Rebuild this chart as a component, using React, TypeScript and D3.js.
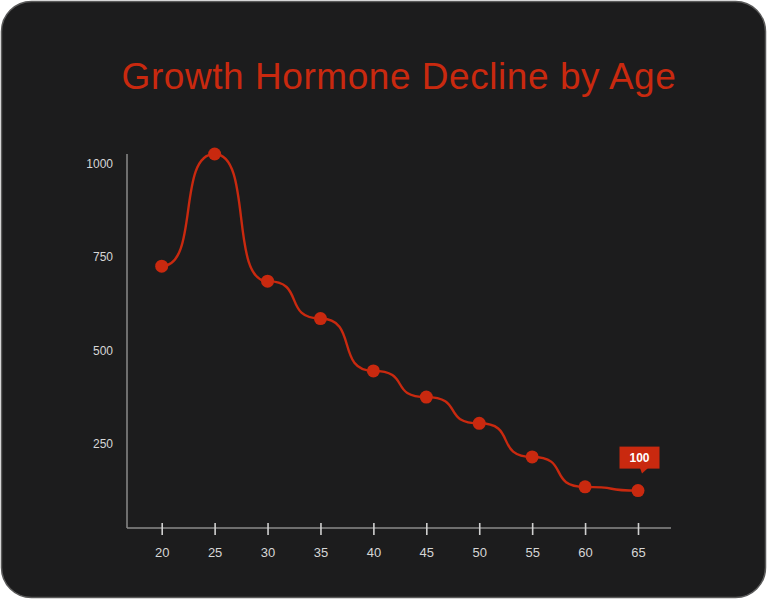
import React, { useEffect, useRef } from "react";
import * as d3 from "d3";

const ages = [20, 25, 30, 35, 40, 45, 50, 55, 60, 65];
const hormoneLevels = [700, 1000, 660, 560, 420, 350, 280, 190, 110, 100];
const yTickValues = [250, 500, 750, 1000];
const chartTitle = "Growth Hormone Decline by Age";

const RED = "#c9290f";

// horizontal S-curve between points, a bit steeper than curveBumpX
function curveSteepBump(context: any) {
  const k = 0.72;
  let x0 = NaN;
  let y0 = NaN;
  let started = false;
  return {
    areaStart() {},
    areaEnd() {},
    lineStart() {
      started = false;
    },
    lineEnd() {},
    point(x: number, y: number) {
      if (!started) {
        context.moveTo(x, y);
        started = true;
      } else {
        const dx = x - x0;
        context.bezierCurveTo(x0 + k * dx, y0, x - k * dx, y, x, y);
      }
      x0 = x;
      y0 = y;
    },
  };
}

const App: React.FC = () => {
  const svgRef = useRef<SVGSVGElement | null>(null);

  useEffect(() => {
    if (!svgRef.current) return;
    const svg = d3.select(svgRef.current);
    svg.selectAll("*").remove();

    const axisLeftX = 127;
    const axisRightX = 671;
    const baseY = 528;
    const topY = 154;

    // card
    svg
      .append("rect")
      .attr("x", 1.5)
      .attr("y", 1.5)
      .attr("width", 764)
      .attr("height", 596)
      .attr("rx", 30)
      .attr("fill", "#1c1c1d")
      .attr("stroke", "#5a5a5a")
      .attr("stroke-width", 1.5);

    svg
      .append("text")
      .attr("x", 399)
      .attr("y", 89)
      .attr("text-anchor", "middle")
      .attr("font-family", "'Liberation Sans', Arial, sans-serif")
      .attr("font-size", 37)
      .attr("letter-spacing", 0.55)
      .attr("fill", RED)
      .text(chartTitle);

    const x = d3
      .scalePoint<number>()
      .domain(ages)
      .range([161.7, 638]);

    const y = d3.scaleLinear().domain([0, 1000]).range([baseY, topY]);

    // axis lines
    svg
      .append("line")
      .attr("x1", axisLeftX)
      .attr("x2", axisLeftX)
      .attr("y1", topY)
      .attr("y2", baseY)
      .attr("stroke", "#8a8a8a")
      .attr("stroke-width", 1.5);
    svg
      .append("line")
      .attr("x1", axisLeftX)
      .attr("x2", axisRightX)
      .attr("y1", baseY)
      .attr("y2", baseY)
      .attr("stroke", "#8a8a8a")
      .attr("stroke-width", 1.5);

    // y axis labels
    const yAxis = svg
      .append("g")
      .attr("transform", `translate(${axisLeftX},0)`)
      .call(
        d3
          .axisLeft(y)
          .tickValues(yTickValues)
          .tickFormat(d3.format("d"))
          .tickSize(0)
          .tickPadding(14),
      );
    yAxis.select(".domain").remove();
    yAxis
      .selectAll("text")
      .attr("dy", 13)
      .attr("font-family", "'Liberation Sans', Arial, sans-serif")
      .attr("font-size", 12)
      .attr("fill", "#d6d6d6");

    // x axis
    const xAxis = svg
      .append("g")
      .attr("transform", `translate(0,${baseY})`)
      .call(d3.axisBottom(x).tickSize(0));
    xAxis.select(".domain").remove();
    xAxis
      .selectAll(".tick line")
      .attr("y1", -5)
      .attr("y2", 7)
      .attr("stroke", "#d0d0d0")
      .attr("stroke-width", 1.6);
    xAxis
      .selectAll("text")
      .attr("y", 29)
      .attr("dy", 0)
      .attr("font-family", "'Liberation Sans', Arial, sans-serif")
      .attr("font-size", 13)
      .attr("fill", "#d6d6d6");

    const points = ages.map((a, i) => ({ age: a, value: hormoneLevels[i] }));

    const line = d3
      .line<{ age: number; value: number }>()
      .x((d) => x(d.age)!)
      .y((d) => y(d.value))
      .curve(curveSteepBump as any);

    svg
      .append("path")
      .datum(points)
      .attr("d", line)
      .attr("fill", "none")
      .attr("stroke", RED)
      .attr("stroke-width", 2.4);

    svg
      .selectAll("circle.pt")
      .data(points)
      .enter()
      .append("circle")
      .attr("class", "pt")
      .attr("cx", (d) => x(d.age)!)
      .attr("cy", (d) => y(d.value))
      .attr("r", 6.5)
      .attr("fill", RED);

    // tooltip on last point
    const last = points[points.length - 1];
    const lx = x(last.age)!;
    const ly = y(last.value);
    const tip = svg.append("g").attr("transform", `translate(${lx},${ly})`);
    tip
      .append("rect")
      .attr("x", -18.5)
      .attr("y", -44)
      .attr("width", 40)
      .attr("height", 22)
      .attr("fill", RED);
    tip
      .append("path")
      .attr("d", "M2,-22.5 L10,-22.5 L4,-17 Z")
      .attr("fill", RED);
    tip
      .append("text")
      .attr("x", 1.5)
      .attr("y", -29)
      .attr("text-anchor", "middle")
      .attr("font-family", "'Liberation Sans', Arial, sans-serif")
      .attr("font-size", 12)
      .attr("font-weight", "bold")
      .attr("fill", "#ffffff")
      .text(String(last.value));
  }, []);

  return (
    <svg
      ref={svgRef}
      width={767}
      height={600}
      style={{ position: "absolute", left: 0, top: 0, background: "#ffffff" }}
    />
  );
};

export default App;
